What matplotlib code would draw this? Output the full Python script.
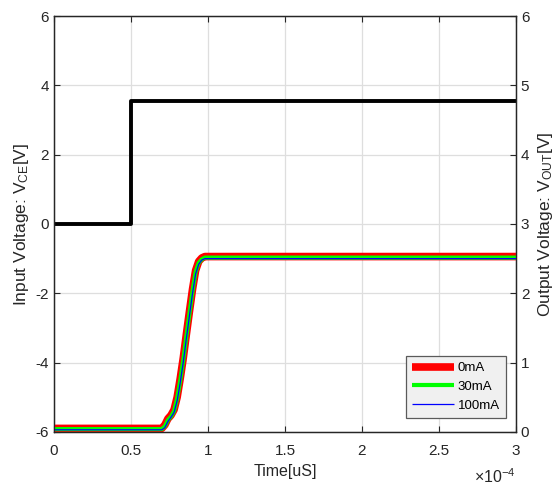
"""
Input step vs. output response for three load currents (dual y axes).
"""

import numpy as np
import matplotlib
matplotlib.use("Agg")
import matplotlib.pyplot as plt
from matplotlib.ticker import FuncFormatter

plt.rcParams['font.family'] = ['Liberation Sans', 'DejaVu Sans']
plt.rcParams['mathtext.default'] = 'regular'
plt.rcParams['axes.unicode_minus'] = False

# input voltage step (left axis)
t_in = [0.0, 0.5e-4, 0.5e-4, 3.0e-4]
v_in = [0.0, 0.0, 3.55, 3.55]

# output voltage (right axis), one series per load current
t_out = [0.0, 0.70e-4, 0.72e-4, 0.74e-4, 0.76e-4, 0.78e-4, 0.80e-4, 0.82e-4,
         0.84e-4, 0.86e-4, 0.88e-4, 0.90e-4, 0.92e-4, 0.94e-4, 0.96e-4,
         0.98e-4, 1.0e-4, 3.0e-4]
v_0ma = [0.05, 0.05, 0.10, 0.19, 0.24, 0.32, 0.50, 0.77, 1.07, 1.41, 1.74,
         2.06, 2.33, 2.46, 2.51, 2.53, 2.53, 2.53]
v_30ma = [0.04, 0.04, 0.08, 0.17, 0.22, 0.30, 0.48, 0.74, 1.04, 1.38, 1.71,
          2.03, 2.31, 2.44, 2.49, 2.515, 2.515, 2.515]
v_100ma = [0.03, 0.03, 0.06, 0.15, 0.21, 0.28, 0.45, 0.71, 1.01, 1.35, 1.68,
           2.00, 2.28, 2.42, 2.48, 2.50, 2.50, 2.50]

labels = ["0mA", "30mA", "100mA"]
colors = ["#ff0000", "#00ff00", "#0000ff"]
widths = [5.5, 3.0, 0.9]

txt = "#262626"


def main():
    fig = plt.figure(figsize=(5.56, 4.88), dpi=100)
    ax = fig.add_axes([0.097, 0.115, 0.831, 0.852])
    ax2 = ax.twinx()

    ax.plot(t_in, v_in, color='black', linewidth=2.8)

    for v, lab, c, w in zip([v_0ma, v_30ma, v_100ma], labels, colors, widths):
        ax2.plot(t_out, v, color=c, linewidth=w, label=lab,
                 solid_capstyle='butt')

    ax.set_xlim(0, 3e-4)
    ax.set_ylim(-6, 6)
    ax.set_yticks(np.arange(-6, 7, 2))
    ax.set_xticks(np.arange(0, 3.01e-4, 0.5e-4))
    ax.xaxis.set_major_formatter(FuncFormatter(lambda x, p: "%g" % round(x / 1e-4, 2)))
    ax2.set_ylim(0, 6)
    ax2.set_yticks(np.arange(0, 7, 1))

    ax.grid(True, color='#dedede', linewidth=0.9)
    ax.set_axisbelow(True)

    for a in (ax, ax2):
        a.tick_params(direction='in', labelsize=11, colors=txt, length=4,
                      width=0.8)
        for s in a.spines.values():
            s.set_color(txt)
            s.set_linewidth(0.9)
    ax.tick_params(axis='x', top=True, pad=9)

    ax.text(1.0, -0.085, r"$\times$10$^{-4}$", transform=ax.transAxes,
            ha='right', va='top', fontsize=11.5, color=txt)

    ax.set_xlabel("Time[uS]", fontsize=11.5, color=txt, labelpad=4)
    ax.set_ylabel(r"Input Voltage: V$_{CE}$[V]", fontsize=12.5, color=txt,
                  labelpad=3)
    ax2.set_ylabel(r"Output Voltage: V$_{OUT}$[V]", fontsize=12.5, color=txt,
                   labelpad=5)

    leg = ax2.legend(loc='lower right', bbox_to_anchor=(0.978, 0.034),
                     borderaxespad=0, fontsize=9.5, frameon=True,
                     fancybox=False, edgecolor='#5a5a5a', facecolor='#f0f0f0',
                     handlelength=3.2, labelspacing=0.5, handletextpad=0.3,
                     borderpad=0.45)
    leg.get_frame().set_linewidth(0.9)
    leg.get_frame().set_alpha(1.0)

    fig.savefig("out.png", dpi=100)
    plt.close(fig)


if __name__ == "__main__":
    main()
